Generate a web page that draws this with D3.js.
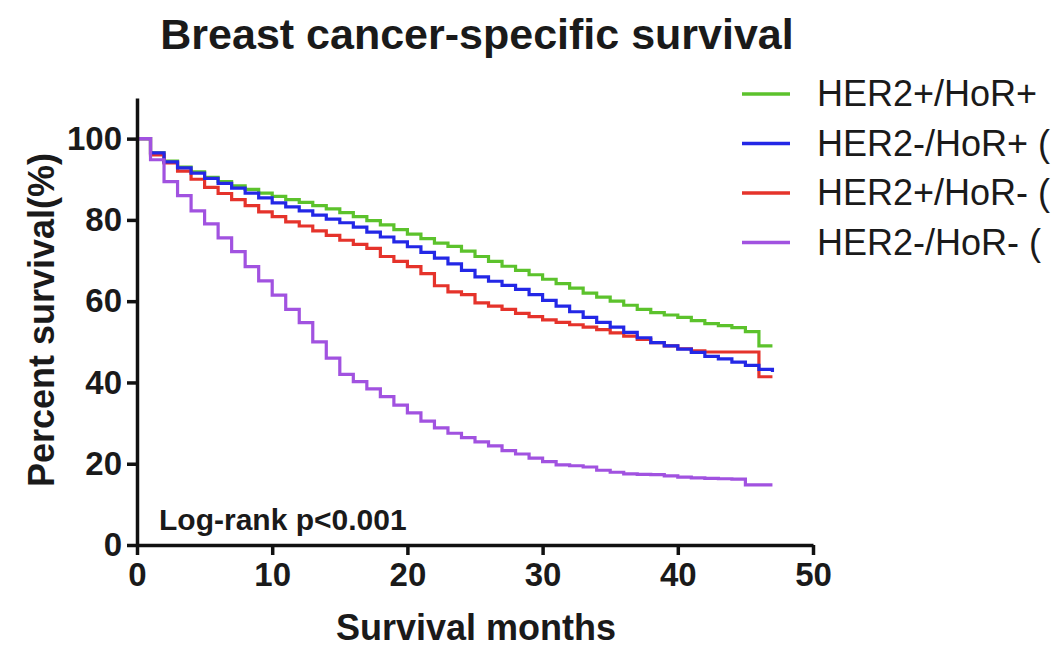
<!DOCTYPE html>
<html>
<head>
<meta charset="utf-8">
<script src="https://cdn.jsdelivr.net/npm/d3@7"></script>
<style>
  body { margin: 0; background: #fff; }
  svg { display: block; }
  text { font-family: Arial, "Liberation Sans", sans-serif; fill: #1a1a1a; }
</style>
</head>
<body>
<div id="chart"></div>
<script>
// months since diagnosis, one step per month
const months = [0, 1, 2, 3, 4, 5, 6, 7, 8, 9, 10, 11, 12, 13, 14, 15, 16, 17, 18, 19,
  20, 21, 22, 23, 24, 25, 26, 27, 28, 29, 30, 31, 32, 33, 34, 35, 36, 37, 38, 39,
  40, 41, 42, 43, 44, 45, 46, 47]

// survival (%)
const herPosHorPos = [100, 96.5, 94.5, 93, 91.8, 90.5, 89.4, 88.4, 87.5, 86.6, 85.8, 85, 84.3, 83.5, 82.7, 81.8,
  80.8, 79.8, 78.8, 77.6, 76.5, 75.4, 74.3, 73.5, 72.3, 71, 69.8, 68.6, 67.6, 66.5, 65.4, 64.3,
  63.2, 62, 61, 60, 59, 58, 57.2, 56.6, 56, 55.2, 54.5, 54, 53.5, 52.5, 49, 49]
const herNegHorPos = [100, 96.5, 94.3, 92.8, 91.5, 90.2, 89, 87.8, 86.6, 85.4, 84.2, 83.2, 82.2, 81.2, 80.2, 79.3,
  78.2, 77, 75.8, 74.6, 73.4, 72, 70.6, 69.2, 67.6, 66, 64.9, 63.9, 62.9, 61.6, 60.2, 58.8,
  57.4, 56, 54.8, 53.6, 52.3, 51, 49.8, 49, 48.2, 47.4, 46.4, 45.8, 45, 44.2, 43.2, 42.6]
const herPosHorNeg = [100, 96, 94, 92, 90, 88, 86.5, 85, 83.5, 82, 80.8, 79.5, 78.5, 77.3, 76.2, 75,
  74, 73, 71, 69.8, 68.5, 66.8, 63.8, 62.3, 61.6, 59.6, 58.8, 58, 57, 56.2, 55.4, 54.8,
  54.2, 53.6, 53, 52.2, 51.4, 50.6, 49.8, 49, 48.3, 47.8, 47.5, 47.5, 47.5, 47.5, 41.4, 41.4]
const herNegHorNeg = [100, 94.8, 89.4, 86, 82.2, 79, 75.6, 72.2, 68.5, 65, 61.5, 58, 54.7, 50, 46, 42,
  40.2, 38.4, 36.5, 34.4, 32.5, 30.5, 28.8, 27.5, 26.4, 25.4, 24.4, 23.2, 22.4, 21.4, 20.5, 19.7,
  19.5, 19.2, 18.4, 17.9, 17.5, 17.4, 17.3, 17, 16.7, 16.5, 16.4, 16.3, 16.2, 14.8, 14.8, 14.8]

const groupNames = ["HER2+/HoR+", "HER2-/HoR+ (", "HER2+/HoR- (", "HER2-/HoR- ("]
const groupColors = ["#5cc22c", "#2327e6", "#e5332b", "#a152e0"]
const xTicks = [0, 10, 20, 30, 40, 50]
const yTicks = [0, 20, 40, 60, 80, 100]

const width = 1064, height = 647

const svg = d3.select("#chart").append("svg")
  .attr("width", width)
  .attr("height", height)

const x = d3.scaleLinear().domain([0, 50]).range([137, 813])
const y = d3.scaleLinear().domain([0, 110]).range([545, 98])

svg.append("text")
  .attr("x", 477).attr("y", 49)
  .attr("text-anchor", "middle")
  .attr("font-size", 43).attr("font-weight", "bold")
  .text("Breast cancer-specific survival")

// curves, same order as the legend; drawn green, red, blue, purple
const series = [herPosHorPos, herNegHorPos, herPosHorNeg, herNegHorNeg]
const order = [0, 2, 1, 3]
const line = d3.line()
  .x((d, i) => x(months[i]))
  .y(d => y(d))
  .curve(d3.curveStepAfter)

order.forEach(k => {
  svg.append("path")
    .datum(series[k])
    .attr("d", line)
    .attr("fill", "none")
    .attr("stroke", groupColors[k])
    .attr("stroke-width", 3.2)
})

// axes
svg.append("g")
  .attr("transform", `translate(${x(0)},0)`)
  .call(d3.axisLeft(y).tickValues(yTicks).tickSize(10).tickSizeOuter(0).tickPadding(5))
svg.append("g")
  .attr("transform", `translate(0,${y(0)})`)
  .call(d3.axisBottom(x).tickValues(xTicks).tickSize(10).tickSizeOuter(0).tickPadding(8))

svg.selectAll(".domain, .tick line")
  .attr("stroke", "#111")
  .attr("stroke-width", 3.5)
svg.selectAll(".tick text")
  .attr("font-family", "Arial, 'Liberation Sans', sans-serif")
  .attr("font-size", 33)
  .attr("font-weight", "bold")
  .attr("fill", "#1a1a1a")

svg.append("text")
  .attr("x", 476).attr("y", 640)
  .attr("text-anchor", "middle")
  .attr("font-size", 36).attr("font-weight", "bold")
  .text("Survival months")

svg.append("text")
  .attr("transform", "translate(54,320) rotate(-90)")
  .attr("text-anchor", "middle")
  .attr("font-size", 36).attr("font-weight", "bold")
  .text("Percent survival(%)")

svg.append("text")
  .attr("x", 159).attr("y", 530)
  .attr("font-size", 30).attr("font-weight", "bold")
  .text("Log-rank p<0.001")

// legend
const legend = svg.append("g")
groupNames.forEach((name, i) => {
  const ly = 94 + i * 49.5
  legend.append("line")
    .attr("x1", 742).attr("x2", 790)
    .attr("y1", ly).attr("y2", ly)
    .attr("stroke", groupColors[i])
    .attr("stroke-width", 3.5)
  legend.append("text")
    .attr("x", 817).attr("y", ly + 12)
    .attr("font-size", 36)
    .text(name)
})
</script>
</body>
</html>
